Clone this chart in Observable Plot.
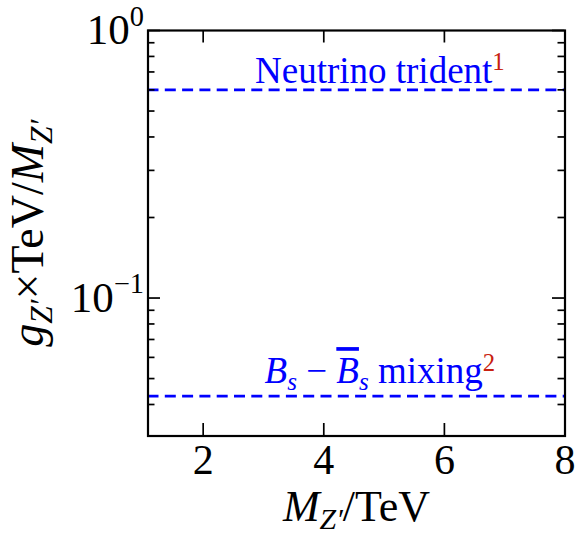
<!DOCTYPE html>
<html>
<head>
<meta charset="utf-8">
<script src="https://cdn.jsdelivr.net/npm/d3@7"></script>
<script src="https://cdn.jsdelivr.net/npm/@observablehq/plot@0.6"></script>
<style>
  html, body { margin: 0; padding: 0; background: #fff; }
  #chart svg text { white-space: pre; }
</style>
</head>
<body>
<div id="chart"></div>
<script>
// Upper limits on the Z' coupling-to-mass ratio
const limitNames = ["Neutrino trident", "Bs mixing"];
const limitValues = [0.6, 0.043];
const limitRefs = ["1", "2"];

// Axis ticks and extents
const xTicks = [2, 4, 6, 8];
const yMajorTicks = [1, 0.1];
const yTickExponents = ["0", "−1"];
const yMinorTicks = [0.04, 0.05, 0.06, 0.07, 0.08, 0.09, 0.2, 0.3, 0.4, 0.5, 0.6, 0.7, 0.8, 0.9];
const xDomain = [1.085, 8];
const yDomain = [0.0305, 1];

const xTitle = "MZ'/TeV";
const yTitle = "gZ'xTeV/MZ'";

const BLUE = "#0000ff";
const RED = "#c8200f";
const FONT = "'Liberation Serif', 'DejaVu Serif', serif";

// Rich-text pieces for labels that need italics, sub/superscripts or bars
const rich = new Map([
  ["Neutrino trident", [{t: "Neutrino trident"}]],
  ["Bs mixing", [
    {t: "B", i: true}, {t: "s", i: true, sub: true}, {t: " − "},
    {t: "B", i: true, over: true}, {t: "s", i: true, sub: true}, {t: " mixing"}
  ]],
  [xTitle, [{t: "M", i: true}, {t: "Z′", i: true, sub: true}, {t: "/TeV"}]],
  [yTitle, [{t: "g", i: true}, {t: "Z′", i: true, sub: true}, {t: "×TeV/"},
            {t: "M", i: true}, {t: "Z′", i: true, sub: true}]]
]);

const W = 576, H = 534;
const mL = 147.5, mR = 11.5, mT = 30, mB = 98.5;
const innerW = W - mL - mR, innerH = H - mT - mB;
const majorLen = 12.5, minorLen = 7;

const limits = limitNames.map((name, i) => ({name, value: limitValues[i], ref: limitRefs[i]}));
const yTicks = yMajorTicks.map((v, i) => ({value: v, label: "10^" + yTickExponents[i]}));

const tickStyle = {stroke: "#000", strokeWidth: 1.7};

const plot = Plot.plot({
  width: W,
  height: H,
  marginLeft: mL, marginRight: mR, marginTop: mT, marginBottom: mB,
  style: {fontFamily: FONT, background: "#fff", overflow: "visible"},
  x: {domain: xDomain, axis: null},
  y: {type: "log", domain: yDomain, axis: null},
  marks: [
    // limit lines
    Plot.ruleY(limits, {y: "value", stroke: BLUE, strokeWidth: 2.6, strokeDasharray: "11,6.3"}),
    // inward ticks on all four sides
    Plot.tickX(xTicks, {x: d => d, insetTop: innerH - majorLen, ...tickStyle}),
    Plot.tickX(xTicks, {x: d => d, insetBottom: innerH - majorLen, ...tickStyle}),
    Plot.tickY(yMajorTicks, {y: d => d, insetRight: innerW - majorLen, ...tickStyle}),
    Plot.tickY(yMajorTicks, {y: d => d, insetLeft: innerW - majorLen, ...tickStyle}),
    Plot.tickY(yMinorTicks, {y: d => d, insetRight: innerW - minorLen, ...tickStyle}),
    Plot.tickY(yMinorTicks, {y: d => d, insetLeft: innerW - minorLen, ...tickStyle}),
    Plot.frame({stroke: "#000", strokeWidth: 2.2}),
    // tick labels
    Plot.text(xTicks, {x: d => d, text: d => String(d), frameAnchor: "bottom",
      lineAnchor: "bottom", dy: 37.5, fontSize: 42, fill: "#000"}),
    Plot.text(yTicks, {y: "value", text: "label", frameAnchor: "left", textAnchor: "end",
      lineAnchor: "bottom", dx: -4, dy: 13.5, fontSize: 43, fill: "#000",
      ariaDescription: "y tick label"}),
    // limit labels
    ...limits.map((d, i) => Plot.text([d], {
      x: 4.93, y: "value", text: "name", textAnchor: "middle", lineAnchor: "bottom",
      dy: i === 0 ? -7 : -13, fontSize: 37, fill: BLUE, ariaDescription: "limit label"
    })),
    // axis titles
    Plot.text([xTitle], {text: d => d, frameAnchor: "bottom", textAnchor: "middle",
      lineAnchor: "bottom", dy: 84.5, fontSize: 44, fill: "#000", ariaDescription: "rich label"}),
    Plot.text([yTitle], {text: d => d, frameAnchor: "left", textAnchor: "middle", rotate: -90,
      lineAnchor: "bottom", dx: -105.5, fontSize: 46, fill: "#000", ariaDescription: "rich label"})
  ]
});

document.getElementById("chart").appendChild(plot);

const SVGNS = "http://www.w3.org/2000/svg";
function setRich(el, parts, size) {
  el.textContent = "";
  let offset = 0;
  for (const p of parts) {
    const ts = document.createElementNS(SVGNS, "tspan");
    const small = p.sub || p.sup;
    const target = p.sub ? size * (p.subShift ?? 0.2) : p.sup ? -size * (p.supShift ?? 0.34) : 0;
    if (target !== offset) ts.setAttribute("dy", target - offset);
    offset = target;
    ts.setAttribute("font-size", small ? size * (p.scale ?? 0.68) : size);
    if (p.i) ts.setAttribute("font-style", "italic");
    if (p.fill) ts.setAttribute("fill", p.fill);
    if (p.over) ts.setAttribute("text-decoration", "overline");
    ts.textContent = p.t;
    el.appendChild(ts);
  }
}

function groups(desc) {
  return d3.select(plot).selectAll(`g[aria-description="${desc}"] text`);
}

// limit labels carry their reference number as a red superscript
groups("limit label").each(function () {
  const name = this.textContent;
  const lim = limits.find(l => l.name === name);
  setRich(this, [...rich.get(name), {t: lim.ref, sup: true, fill: RED, scale: 0.67}], 37);
});

// powers of ten on the y axis
groups("y tick label").each(function () {
  const [base, exp] = this.textContent.split("^");
  setRich(this, [{t: base}, {t: exp, sup: true, supShift: 0.42, scale: 0.66}], 43);
});

// axis titles with math-style subscripts
groups("rich label").each(function () {
  const size = +this.parentNode.getAttribute("font-size") || 42;
  setRich(this, rich.get(this.textContent), size);
});
</script>
</body>
</html>
